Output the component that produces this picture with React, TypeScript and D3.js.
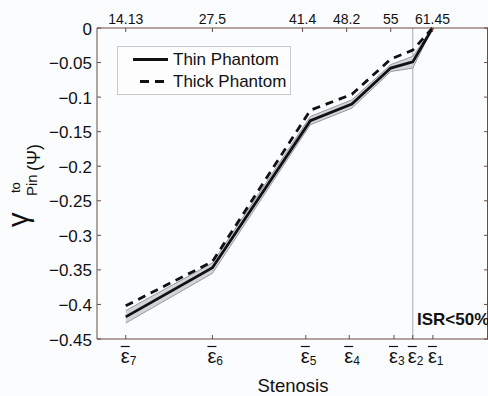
import React, { useEffect, useRef } from "react";
import * as d3 from "d3";

// stenosis (%) where each epsilon marker sits on the bottom axis, epsilon7 .. epsilon1
const epsPos = [14.13, 27.5, 41.9, 48.6, 55.5, 58.4, 61.5];
const epsLabels = ["7", "6", "5", "4", "3", "2", "1"];
const topTicks = [14.13, 27.5, 41.4, 48.2, 55, 61.45];
const topLabels = ["14.13", "27.5", "41.4", "48.2", "55", "61.45"];
const yTicks = [0, -0.05, -0.1, -0.15, -0.2, -0.25, -0.3, -0.35, -0.4, -0.45];

// curve points
const pointX = [14.13, 27.5, 42.6, 49.0, 55.0, 58.4, 61.45];
const thin = [-0.418, -0.347, -0.134, -0.11, -0.058, -0.049, 0];
const thinUpper = [-0.409, -0.34, -0.128, -0.104, -0.053, -0.041, 0];
const thinLower = [-0.427, -0.355, -0.14, -0.116, -0.063, -0.058, 0];
const thick = [-0.402, -0.338, -0.119, -0.096, -0.045, -0.032, 0];

const ISR_X = 58.4;

const W = 488;
const H = 396;
const box = { left: 97, top: 28, right: 488, bottom: 339 };
const axisCol = "#6a4a42";
const font = "Liberation Sans, Arial, sans-serif";

export default function App() {
  const ref = useRef<SVGSVGElement>(null);

  useEffect(() => {
    const svg = d3.select(ref.current);
    svg.selectAll("*").remove();

    const x = d3.scaleLinear().domain([9.7, 70]).range([box.left, box.right]);
    const y = d3.scaleLinear().domain([-0.45, 0]).range([box.bottom, box.top]);

    svg.append("rect").attr("width", W).attr("height", H).attr("fill", "#fbfcfe");

    const g = svg.append("g");

    // ISR line
    g.append("line")
      .attr("x1", x(ISR_X)).attr("x2", x(ISR_X))
      .attr("y1", box.top).attr("y2", box.bottom)
      .attr("stroke", "#a4a8ac").attr("stroke-width", 1);

    // band around thin phantom
    const idx = d3.range(pointX.length);
    const area = d3.area<number>()
      .x((i) => x(pointX[i]))
      .y0((i) => y(thinLower[i]))
      .y1((i) => y(thinUpper[i]));
    g.append("path").datum(idx).attr("d", area).attr("fill", "#d2d4d6");
    const edge = (arr: number[]) =>
      d3.line<number>().x((i) => x(pointX[i])).y((i) => y(arr[i]))(idx);
    [thinUpper, thinLower].forEach((arr) => {
      g.append("path").attr("d", edge(arr)).attr("fill", "none")
        .attr("stroke", "#96999d").attr("stroke-width", 1);
    });

    g.append("path").attr("d", edge(thick)).attr("fill", "none")
      .attr("stroke", "#111").attr("stroke-width", 2.8)
      .attr("stroke-dasharray", "8,6");
    g.append("path").attr("d", edge(thin)).attr("fill", "none")
      .attr("stroke", "#111").attr("stroke-width", 2.8);

    // axes box
    const ax = svg.append("g").attr("stroke", axisCol).attr("stroke-width", 1);
    ax.append("line").attr("x1", box.left).attr("x2", box.right).attr("y1", box.top).attr("y2", box.top);
    ax.append("line").attr("x1", box.left).attr("x2", box.right).attr("y1", box.bottom).attr("y2", box.bottom);
    ax.append("line").attr("x1", box.left).attr("x2", box.left).attr("y1", box.top).attr("y2", box.bottom);
    ax.append("line").attr("x1", box.right - 0.5).attr("x2", box.right - 0.5).attr("y1", box.top).attr("y2", box.bottom);

    yTicks.forEach((t) => {
      ax.append("line").attr("x1", box.left).attr("x2", box.left + 4).attr("y1", y(t)).attr("y2", y(t));
      ax.append("line").attr("x1", box.right - 4).attr("x2", box.right).attr("y1", y(t)).attr("y2", y(t));
      svg.append("text").attr("x", box.left - 5).attr("y", y(t) + 6.5)
        .attr("text-anchor", "end").attr("font-family", font).attr("font-size", 17)
        .attr("fill", "#111").text(t === 0 ? "0" : d3.format("")(t));
    });

    topTicks.forEach((t, i) => {
      ax.append("line").attr("x1", x(t)).attr("x2", x(t)).attr("y1", box.top).attr("y2", box.top + 4);
      svg.append("text").attr("x", x(t)).attr("y", 24)
        .attr("text-anchor", "middle").attr("font-family", font).attr("font-size", 14)
        .attr("fill", "#111").text(topLabels[i]);
    });

    epsPos.forEach((s, i) => {
      const px = x(s);
      ax.append("line").attr("x1", px).attr("x2", px).attr("y1", box.bottom).attr("y2", box.bottom - 4);
      svg.append("line").attr("x1", px - 5).attr("x2", px + 4).attr("y1", 346.5).attr("y2", 346.5)
        .attr("stroke", "#111").attr("stroke-width", 1.2);
      const t = svg.append("text").attr("x", px - 5).attr("y", 363)
        .attr("font-family", font).attr("font-size", 20).attr("fill", "#111");
      t.append("tspan").text("ε");
      t.append("tspan").attr("font-size", 12).attr("dy", 2).text(epsLabels[i]);
    });

    svg.append("text").attr("x", 293).attr("y", 392).attr("text-anchor", "middle")
      .attr("font-family", font).attr("font-size", 18.5).attr("fill", "#111").text("Stenosis");

    svg.append("text").attr("x", 417).attr("y", 325).attr("font-family", font)
      .attr("font-size", 17).attr("font-weight", "bold").attr("fill", "#111").text("ISR<50%");

    // y label
    const yl = svg.append("g").attr("transform", "rotate(-90)")
      .attr("font-family", font).attr("fill", "#111");
    yl.append("text").attr("x", -227).attr("y", 28).attr("font-size", 29).text("γ");
    yl.append("text").attr("x", -193).attr("y", 20).attr("font-size", 13).text("to");
    yl.append("text").attr("x", -196).attr("y", 37).attr("font-size", 15).text("Pin");
    yl.append("text").attr("x", -171).attr("y", 40).attr("font-size", 18).text("(Ψ)");

    // legend
    const lg = svg.append("g");
    lg.append("rect").attr("x", 117.5).attr("y", 46.5).attr("width", 173).attr("height", 48)
      .attr("fill", "#fdfdfe").attr("stroke", "#c8c8cc").attr("stroke-width", 1);
    lg.append("line").attr("x1", 133).attr("x2", 168).attr("y1", 59.5).attr("y2", 59.5)
      .attr("stroke", "#111").attr("stroke-width", 2.8);
    lg.append("line").attr("x1", 140).attr("x2", 168).attr("y1", 81.5).attr("y2", 81.5)
      .attr("stroke", "#111").attr("stroke-width", 2.8).attr("stroke-dasharray", "9,6");
    lg.append("text").attr("x", 173).attr("y", 65).attr("font-family", font)
      .attr("font-size", 17).attr("fill", "#111").text("Thin Phantom");
    lg.append("text").attr("x", 173).attr("y", 87).attr("font-family", font)
      .attr("font-size", 17).attr("fill", "#111").text("Thick Phantom");
  }, []);

  return (
    <svg ref={ref} width={W} height={H}
      style={{ position: "absolute", left: 0, top: 0, display: "block" }} />
  );
}
